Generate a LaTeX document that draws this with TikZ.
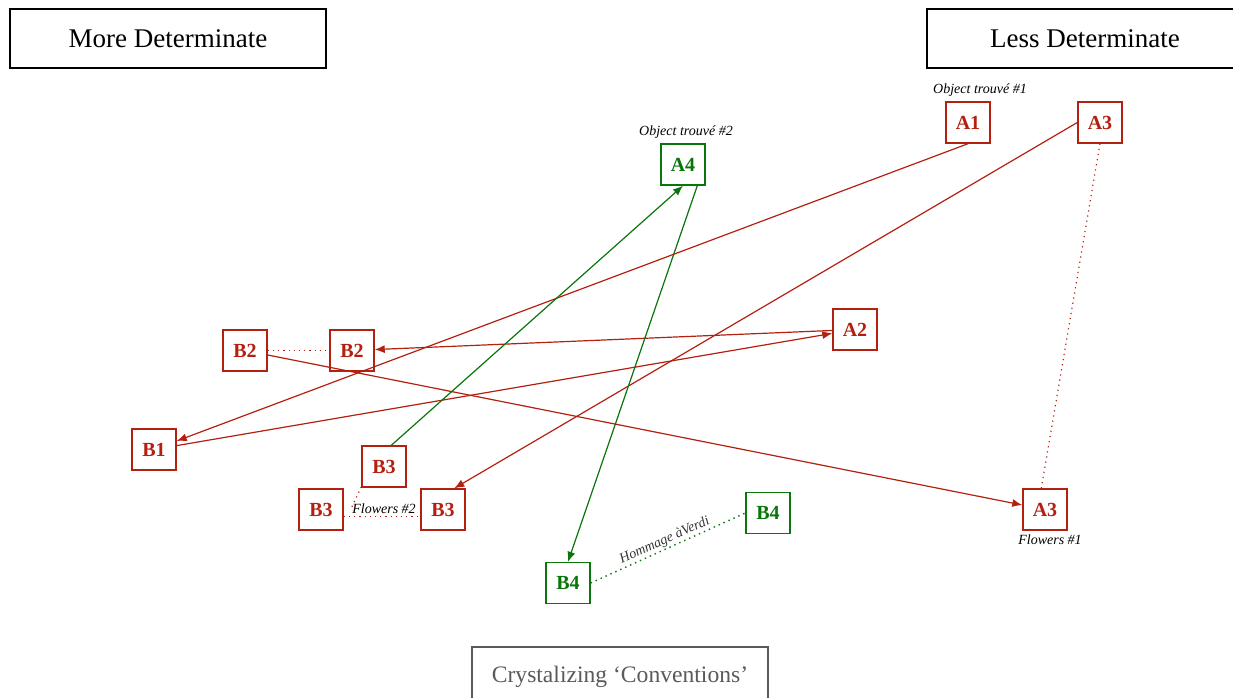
\documentclass[tikz,border=0pt]{standalone}
\usepackage{fontspec}
\setmainfont{Liberation Serif}
\usetikzlibrary{arrows.meta, positioning, calc}
\definecolor{DeepRed}{HTML}{B42010}
\definecolor{DeepGreen}{HTML}{0B740B}
\definecolor{SoftGray}{HTML}{5A5A5A}

\begin{document}
\begin{tikzpicture}[x=0.5pt, y=-0.5pt,
    item/.style={rectangle, line width=0.7pt, minimum width=22pt, minimum height=20.5pt, inner sep=0pt, font=\fontsize{10}{12}\selectfont\bfseries},
    redbox/.style={item, draw=DeepRed, text=DeepRed},
    greenbox/.style={item, draw=DeepGreen, text=DeepGreen},
    header/.style={rectangle, draw=black, line width=1.3pt, minimum width=158pt, minimum height=29.5pt, font=\fontsize{13.5}{16}\selectfont},
    note/.style={inner sep=0.5pt, font=\fontsize{7}{8.5}\selectfont\itshape},
    redarrow/.style={DeepRed, line width=0.6pt, -{Latex[length=5pt,width=4pt]}},
    greenarrow/.style={DeepGreen, line width=0.6pt, -{Latex[length=5pt,width=4pt]}},
    reddots/.style={DeepRed, line width=0.6pt, dotted},
    greendots/.style={DeepGreen, line width=0.7pt, dotted}
]
    \useasboundingbox (0,0) rectangle (1233,697);

    % headers
    \node[header] (more) at (168,38.5) {More Determinate};
    \node[header] (less) at (1085,38.5) {Less Determinate};
    \node[header, draw=SoftGray, line width=1pt, text=SoftGray, minimum width=148pt, font=\fontsize{11.8}{14}\selectfont] (cryst) at (620,676.5) {Crystalizing ‘Conventions’};

    % A nodes
    \node[redbox] (A1) at (968,122.5) {A1};
    \node[redbox] (A3t) at (1100,122.5) {A3};
    \node[greenbox] (A4) at (683,164.5) {A4};
    \node[redbox] (A2) at (855,329.5) {A2};
    \node[redbox] (A3b) at (1045,509.5) {A3};

    % B nodes
    \node[redbox] (B2l) at (245,350.5) {B2};
    \node[redbox] (B2r) at (352,350.5) {B2};
    \node[redbox] (B1) at (154,449.5) {B1};
    \node[redbox] (B3t) at (384,466.5) {B3};
    \node[redbox] (B3l) at (321,509.5) {B3};
    \node[redbox] (B3r) at (443,509.5) {B3};
    \node[greenbox] (B4r) at (768,513) {B4};
    \node[greenbox] (B4l) at (568,583) {B4};

    % labels
    \node[note, above=1.5pt of A1, xshift=6pt] (ot1) {Object trouvé \#1};
    \node[note, above=1.5pt of A4, xshift=1.5pt] (ot2) {Object trouvé \#2};
    \node[note, below=1.5pt of A3b, xshift=2.5pt] (fl1) {Flowers \#1};
    \node[note] (fl2) at (384,509) {Flowers \#2};

    % red connectors
    \draw[redarrow] (A1.south) -- (B1);
    \draw[redarrow] (A3t.west) -- (B3r.62);
    \draw[redarrow] (A2) -- (B2r);
    \draw[redarrow] (B1) -- (A2);
    \draw[redarrow] (B2l) -- (A3b);
    \draw[reddots] (A3t.south) -- (A3b.100);
    \draw[reddots] (B2l) -- (B2r);
    \draw[reddots] (B3l.342) -- (B3r.198);
    \draw[reddots] (B3t.222) -- (fl2.west);

    % green connectors
    \draw[greenarrow] (B3t.71) -- (A4.south);
    \draw[greenarrow] (A4.-56) -- (B4l.north);
    \draw[greendots] (B4l.east) -- node[note, pos=0.5, above, sloped, text=black!80] {Hommage àVerdi} (B4r.west);
\end{tikzpicture}
\end{document}
